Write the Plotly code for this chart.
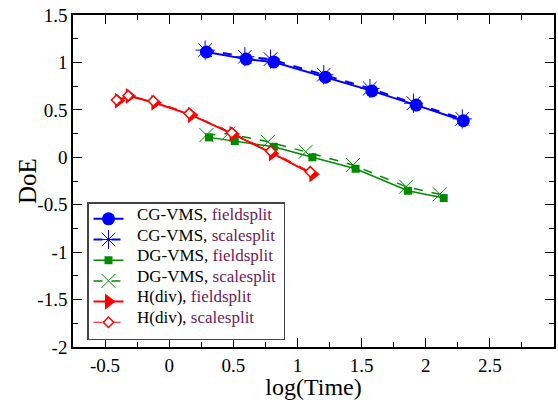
import plotly.graph_objects as go

# Data
cg_f_x = [0.29, 0.60, 0.815, 1.217, 1.58, 1.925, 2.293]
cg_f_y = [1.11, 1.035, 1.005, 0.845, 0.70, 0.55, 0.385]
cg_s_x = [0.28, 0.59, 0.79, 1.205, 1.565, 1.905, 2.285]
cg_s_y = [1.13, 1.06, 1.035, 0.87, 0.725, 0.57, 0.405]

dg_f_x = [0.31, 0.511, 0.815, 1.116, 1.453, 1.861, 2.14]
dg_f_y = [0.21, 0.171, 0.111, 0.0, -0.121, -0.353, -0.43]
dg_s_x = [0.29, 0.46, 0.77, 1.064, 1.433, 1.847, 2.11]
dg_s_y = [0.234, 0.25, 0.163, 0.058, -0.082, -0.31, -0.39]

hd_f_x = [-0.396, -0.311, -0.111, 0.174, 0.498, 0.805, 1.12]
hd_f_y = [0.596, 0.646, 0.575, 0.445, 0.245, 0.041, -0.18]
hd_s_x = [-0.41, -0.32, -0.124, 0.156, 0.488, 0.791, 1.10]
hd_s_y = [0.603, 0.65, 0.593, 0.463, 0.258, 0.065, -0.153]

methods = ["CG-VMS", "CG-VMS", "DG-VMS", "DG-VMS", "H(div)", "H(div)"]
solvers = ["fieldsplit", "scalesplit", "fieldsplit", "scalesplit", "fieldsplit", "scalesplit"]

x_ticks = [-0.5, 0, 0.5, 1, 1.5, 2, 2.5, 3]
y_ticks = [-2, -1.5, -1, -0.5, 0, 0.5, 1, 1.5]

BLUE = "#0000ff"
GREEN = "#008b00"
RED = "#ff0000"
PURPLE = "#6e1a5a"
FONT = "Liberation Serif"

# plot area in pixels (for converting legend row positions to paper coords)
PLOT_TOP, PLOT_BOTTOM = 15, 347
PLOT_LEFT, PLOT_RIGHT = 73, 554
PH = PLOT_BOTTOM - PLOT_TOP
PW = PLOT_RIGHT - PLOT_LEFT

PLACEHOLDER = "\u00a0" * 44

fig = go.Figure()

styles = [
    dict(x=cg_f_x, y=cg_f_y, line=dict(color=BLUE, width=2),
         marker=dict(symbol="circle", size=13, color=BLUE)),
    dict(x=cg_s_x, y=cg_s_y, line=dict(color=BLUE, width=2, dash="dash"),
         marker=dict(symbol="asterisk-open", size=16, color=BLUE, line=dict(color=BLUE, width=1))),
    dict(x=dg_f_x, y=dg_f_y, line=dict(color=GREEN, width=1.5),
         marker=dict(symbol="square", size=8, color=GREEN)),
    dict(x=dg_s_x, y=dg_s_y, line=dict(color=GREEN, width=1.5, dash="dash"),
         marker=dict(symbol="x-thin-open", size=14, color=GREEN, line=dict(color=GREEN, width=1))),
    dict(x=hd_f_x, y=hd_f_y, line=dict(color=RED, width=2),
         marker=dict(symbol="triangle-right", size=14, color=RED)),
    dict(x=hd_s_x, y=hd_s_y, line=dict(color=RED, width=1, dash="dash"),
         marker=dict(symbol="diamond", size=8, color="white", line=dict(color=RED, width=1.5))),
]

for st in styles:
    fig.add_trace(go.Scatter(mode="lines+markers", name=PLACEHOLDER, hoverinfo="x+y", **st))

# legend labels (real text), aligned with the legend rows
row0, row_step = 215, 20.4
for i, (m, s) in enumerate(zip(methods, solvers)):
    ypix = row0 + i * row_step
    fig.add_annotation(
        xref="paper", yref="paper",
        x=(135 - PLOT_LEFT) / PW, y=(PLOT_BOTTOM - ypix) / PH,
        xanchor="left", yanchor="middle", showarrow=False,
        text=f"{m}, <span style='color:{PURPLE}'>{s}</span>",
        font=dict(family=FONT, size=17, color="black"),
    )

# y-axis title placed like the reference
fig.add_annotation(
    xref="paper", yref="paper", x=(27 - PLOT_LEFT) / PW, y=0.5,
    xanchor="center", yanchor="middle", showarrow=False, textangle=-90,
    text="DoE", font=dict(family=FONT, size=25, color="black"),
)

axis_common = dict(
    showgrid=False, zeroline=False, showline=True, linecolor="black", linewidth=1.5,
    mirror="ticks", ticks="inside", ticklen=9, tickwidth=1, tickcolor="black",
    tickfont=dict(family=FONT, size=19, color="black"),
)

fig.update_xaxes(range=[-0.75, 3], tickvals=x_ticks, ticktext=[f"{v:g}" for v in x_ticks],
                 minor=dict(dtick=0.25, ticks="inside", ticklen=5, tickcolor="black"),
                 title=dict(text="log(Time)", font=dict(family=FONT, size=24, color="black"), standoff=4),
                 **axis_common)
fig.update_yaxes(range=[-2, 1.5], tickvals=y_ticks, ticktext=[f"{v:g}" for v in y_ticks],
                 minor=dict(dtick=0.25, ticks="inside", ticklen=5, tickcolor="black"),
                 **axis_common)

fig.update_layout(
    width=558, height=400,
    margin=dict(l=73, r=4, t=15, b=53, autoexpand=False),
    plot_bgcolor="white", paper_bgcolor="white",
    font=dict(family=FONT, color="black"),
    legend=dict(x=(87 - PLOT_LEFT) / PW, y=(PLOT_BOTTOM - 202) / PH, xanchor="left", yanchor="top",
                bgcolor="white", bordercolor="#444", borderwidth=1.5,
                font=dict(family=FONT, size=13.6, color="black"),
                itemwidth=30, tracegroupgap=0),
    showlegend=True,
)

fig.write_html("out.html")
